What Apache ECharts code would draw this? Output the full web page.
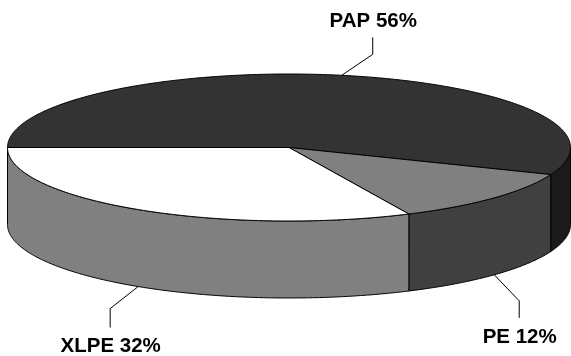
<!DOCTYPE html>
<html>
<head>
<meta charset="utf-8">
<style>html,body{margin:0;padding:0;background:#fff}#chart{width:571px;height:356px}</style>
<script src="https://cdn.jsdelivr.net/npm/echarts@6/dist/echarts.min.js"></script>
</head>
<body>
<div id="chart"></div>
<script>
// Cable insulation share
const names = ['PAP', 'PE', 'XLPE'];
const shares = [56, 12, 32];

// Slice appearance, in the same order as names
const topColors = ['#333333', '#808080', '#ffffff'];
const sideColors = ['#1a1a1a', '#404040', '#808080'];

// Disc geometry: tilted ellipse plus extrusion depth
const disc = { cx: 289, cy: 147.5, rx: 281.5, ry: 73.5, depth: 77, startDeg: 180 };

// Leader elbows relative to each slice's rim point, the run to the label, and the text gap
const leaders = [
  { dx: 31, dy: -21, run: -17, gap: -16, onSide: false },
  { dx: 25, dy: 26, run: 17, gap: 20, onSide: true },
  { dx: -28, dy: 22, run: 19, gap: 18.5, onSide: true }
];

const total = shares.reduce((a, b) => a + b, 0);
const spans = [];
shares.reduce((acc, v) => {
  const sweep = v / total * 360;
  spans.push([acc, acc + sweep]);
  return acc + sweep;
}, disc.startDeg);

function rim(deg, drop) {
  const r = deg * Math.PI / 180;
  return [disc.cx + disc.rx * Math.cos(r), disc.cy + disc.ry * Math.sin(r) + (drop || 0)];
}

function arc(a, b, drop) {
  const pts = [];
  const n = Math.max(2, Math.ceil(Math.abs(b - a) * 2));
  for (let i = 0; i <= n; i++) pts.push(rim(a + (b - a) * i / n, drop));
  return pts;
}

// Part of a span that faces the viewer (screen angles 0..180, modulo 360)
function frontRanges(a, b) {
  const out = [];
  for (const k of [0, 360]) {
    const lo = Math.max(a, k), hi = Math.min(b, k + 180);
    if (hi > lo) out.push([lo, hi]);
  }
  return out;
}

const outline = { stroke: '#000000', lineWidth: 1, lineJoin: 'round' };
const rows = names.map((n, i) => [i, shares[i]]);

function renderSide(params, api) {
  const i = api.value(0);
  const children = frontRanges(spans[i][0], spans[i][1]).map(([lo, hi]) => ({
    type: 'polygon',
    shape: { points: arc(lo, hi, 0).concat(arc(hi, lo, disc.depth)) },
    style: Object.assign({ fill: sideColors[i] }, outline)
  }));
  return { type: 'group', children };
}

function renderTop(params, api) {
  const i = api.value(0);
  return {
    type: 'polygon',
    shape: { points: [[disc.cx, disc.cy]].concat(arc(spans[i][0], spans[i][1], 0)) },
    style: Object.assign({ fill: topColors[i] }, outline)
  };
}

function renderLabel(params, api) {
  const i = api.value(0);
  const l = leaders[i];
  const mid = (spans[i][0] + spans[i][1]) / 2;
  const p = rim(mid, l.onSide ? disc.depth : 0);
  const elbow = [p[0] + l.dx, p[1] + l.dy];
  const end = [elbow[0], elbow[1] + l.run];
  return {
    type: 'group',
    children: [
      {
        type: 'polyline',
        shape: { points: [p, elbow, end] },
        style: { stroke: '#000000', lineWidth: 1, fill: null }
      },
      {
        type: 'text',
        style: {
          text: names[i] + ' ' + shares[i] + '%',
          x: end[0] + 0.5,
          y: end[1] + l.gap,
          align: 'center',
          verticalAlign: 'middle',
          font: 'bold 20.5px "Liberation Sans", Arial, sans-serif',
          fill: '#000000'
        }
      }
    ]
  };
}

const chart = echarts.init(document.getElementById('chart'), null, { renderer: 'canvas' });
chart.setOption({
  animation: false,
  backgroundColor: '#ffffff',
  series: [
    { type: 'custom', coordinateSystem: 'none', data: rows, renderItem: renderSide, z: 1, silent: true },
    { type: 'custom', coordinateSystem: 'none', data: rows, renderItem: renderTop, z: 2, silent: true },
    { type: 'custom', coordinateSystem: 'none', data: rows, renderItem: renderLabel, z: 3, silent: true }
  ]
});
</script>
</body>
</html>
